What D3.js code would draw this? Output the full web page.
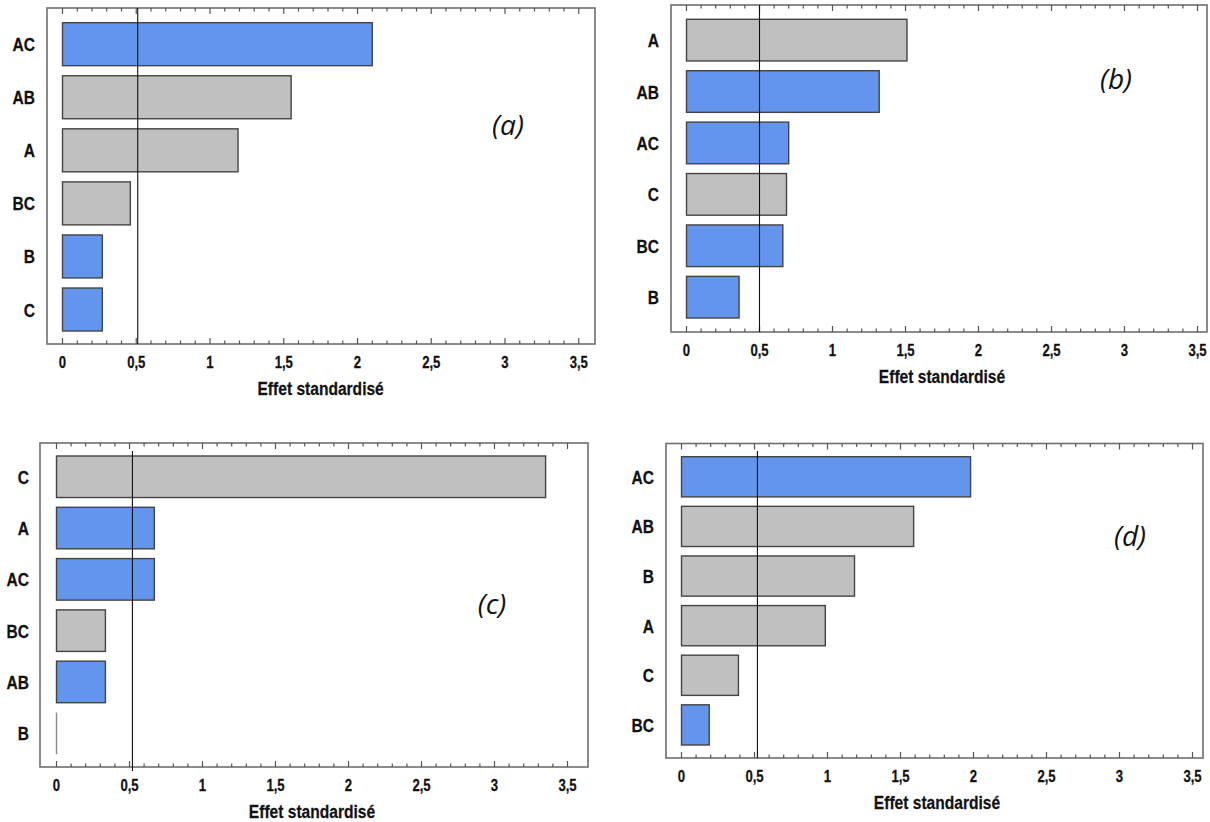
<!DOCTYPE html>
<html>
<head>
<meta charset="utf-8">
<script src="https://cdn.jsdelivr.net/npm/d3@7"></script>
<style>
  html, body { margin: 0; padding: 0; background: #fff; }
  svg { display: block; }
  .lbl { font-family: "Liberation Sans", Arial, sans-serif; font-weight: bold; fill: #111; stroke: #111; stroke-width: 0.25px; }
  .tag { font-family: "Open Sans", "Noto Sans", sans-serif; font-style: italic; fill: #111; }
</style>
</head>
<body>
<svg id="chart" width="1210" height="822"></svg>
<script>
// ---------------- data ----------------
const panelTags = ["(a)", "(b)", "(c)", "(d)"];

const catsA = ["AC", "AB", "A", "BC", "B", "C"];
const valsA = [2.10, 1.55, 1.19, 0.46, 0.27, 0.27];
const signA = ["pos", "neg", "neg", "neg", "pos", "pos"];

const catsB = ["A", "AB", "AC", "C", "BC", "B"];
const valsB = [1.51, 1.32, 0.70, 0.685, 0.66, 0.36];
const signB = ["neg", "pos", "pos", "neg", "pos", "pos"];

const catsC = ["C", "A", "AC", "BC", "AB", "B"];
const valsC = [3.35, 0.67, 0.67, 0.335, 0.335, 0.0];
const signC = ["neg", "pos", "pos", "neg", "pos", "pos"];

const catsD = ["AC", "AB", "B", "A", "C", "BC"];
const valsD = [1.98, 1.59, 1.185, 0.985, 0.39, 0.19];
const signD = ["pos", "neg", "neg", "neg", "neg", "pos"];

const thresholds = [0.51, 0.50, 0.52, 0.52];

const xTickValues = [0, 0.5, 1, 1.5, 2, 2.5, 3, 3.5];
const xTickLabels = ["0", "0,5", "1", "1,5", "2", "2,5", "3", "3,5"];
const xTitle = "Effet standardisé";

// ---------------- layout / style ----------------
const colors = { pos: "#6495ED", neg: "#C0C0C0" };
const NARROW = 0.82;

const layouts = [
  { frame: [47, 8, 595, 344],       x0: 62.5,  unit: 147.5, bars: [22.7, 331],  labelRight: 35,  tag: [508, 135], refTop: 8,   refBot: 344 },
  { frame: [671, 5, 1207, 332],     x0: 686.5, unit: 146,   bars: [19.3, 318],  labelRight: 659, tag: [1116, 89], refTop: 5,   refBot: 332 },
  { frame: [40, 443, 588, 767],     x0: 56.5,  unit: 146,   bars: [456, 754],   labelRight: 29,  tag: [492, 614], refTop: 451, refBot: 771 },
  { frame: [666, 443.5, 1203, 758], x0: 681.5, unit: 146,   bars: [456.7, 745], labelRight: 654, tag: [1130, 546], refTop: 451, refBot: 758 }
];

const panelData = [
  { cats: catsA, vals: valsA, sign: signA },
  { cats: catsB, vals: valsB, sign: signB },
  { cats: catsC, vals: valsC, sign: signC },
  { cats: catsD, vals: valsD, sign: signD }
];

const svg = d3.select("#chart");

function narrowText(sel, x, y, txt, size, anchor) {
  return sel.append("text").attr("class", "lbl")
    .attr("transform", `translate(${x},${y}) scale(${NARROW},1)`)
    .attr("text-anchor", anchor)
    .attr("font-size", size)
    .text(txt);
}

panelData.forEach((pd, i) => {
  const L = layouts[i];
  const g = svg.append("g");
  const [fl, ft, fr, fb] = L.frame;

  const x = d3.scaleLinear().domain([0, 3.5]).range([L.x0, L.x0 + 3.5 * L.unit]);
  const y = d3.scaleBand().domain(pd.cats).range(L.bars).paddingInner(0.19).paddingOuter(0);

  // frame
  g.append("rect")
    .attr("x", fl).attr("y", ft).attr("width", fr - fl).attr("height", fb - ft)
    .attr("fill", "none").attr("stroke", "#6e6e6e").attr("stroke-width", 1.6);

  // minor / major ticks top and bottom (inward)
  const minor = d3.range(0, 36).map(d => d / 10);
  minor.forEach(v => {
    const major = Math.abs(v * 2 - Math.round(v * 2)) < 1e-6;
    const len = major ? 6 : 3.5;
    g.append("line").attr("x1", x(v)).attr("x2", x(v)).attr("y1", ft).attr("y2", ft + len)
      .attr("stroke", "#555").attr("stroke-width", 1.2);
    g.append("line").attr("x1", x(v)).attr("x2", x(v)).attr("y1", fb).attr("y2", fb - len)
      .attr("stroke", "#555").attr("stroke-width", 1.2);
  });

  // bars
  const rows = pd.cats.map((c, k) => ({ c, v: pd.vals[k], s: pd.sign[k] }));
  g.selectAll("rect.bar").data(rows.filter(d => d.v > 0))
    .enter().append("rect").attr("class", "bar")
    .attr("x", x(0))
    .attr("y", d => y(d.c))
    .attr("width", d => x(d.v) - x(0))
    .attr("height", y.bandwidth())
    .attr("fill", d => colors[d.s])
    .attr("stroke", "#444").attr("stroke-width", 1.4);
  // zero-valued effects appear as a thin outline only
  g.selectAll("line.zero").data(rows.filter(d => d.v <= 0))
    .enter().append("line").attr("class", "zero")
    .attr("x1", d => x(d.v)).attr("x2", d => x(d.v))
    .attr("y1", d => y(d.c)).attr("y2", d => y(d.c) + y.bandwidth())
    .attr("stroke", "#888").attr("stroke-width", 1.4);

  // reference line
  g.append("line").attr("x1", x(thresholds[i])).attr("x2", x(thresholds[i]))
    .attr("y1", L.refTop).attr("y2", L.refBot)
    .attr("stroke", "#111").attr("stroke-width", 1.1);

  // y labels
  pd.cats.forEach(c => {
    narrowText(g, L.labelRight, y(c) + y.bandwidth() / 2 + 7, c, 19, "end");
  });

  // x tick labels
  xTickValues.forEach((v, k) => {
    narrowText(g, x(v), fb + 24, xTickLabels[k], 16, "middle");
  });

  // x title
  narrowText(g, (x(0) + x(3.5)) / 2, fb + 51, xTitle, 19, "middle");

  // panel tag
  g.append("text").attr("class", "tag")
    .attr("x", L.tag[0]).attr("y", L.tag[1])
    .attr("text-anchor", "middle")
    .attr("font-size", 28)
    .text(panelTags[i]);
});
</script>
</body>
</html>
